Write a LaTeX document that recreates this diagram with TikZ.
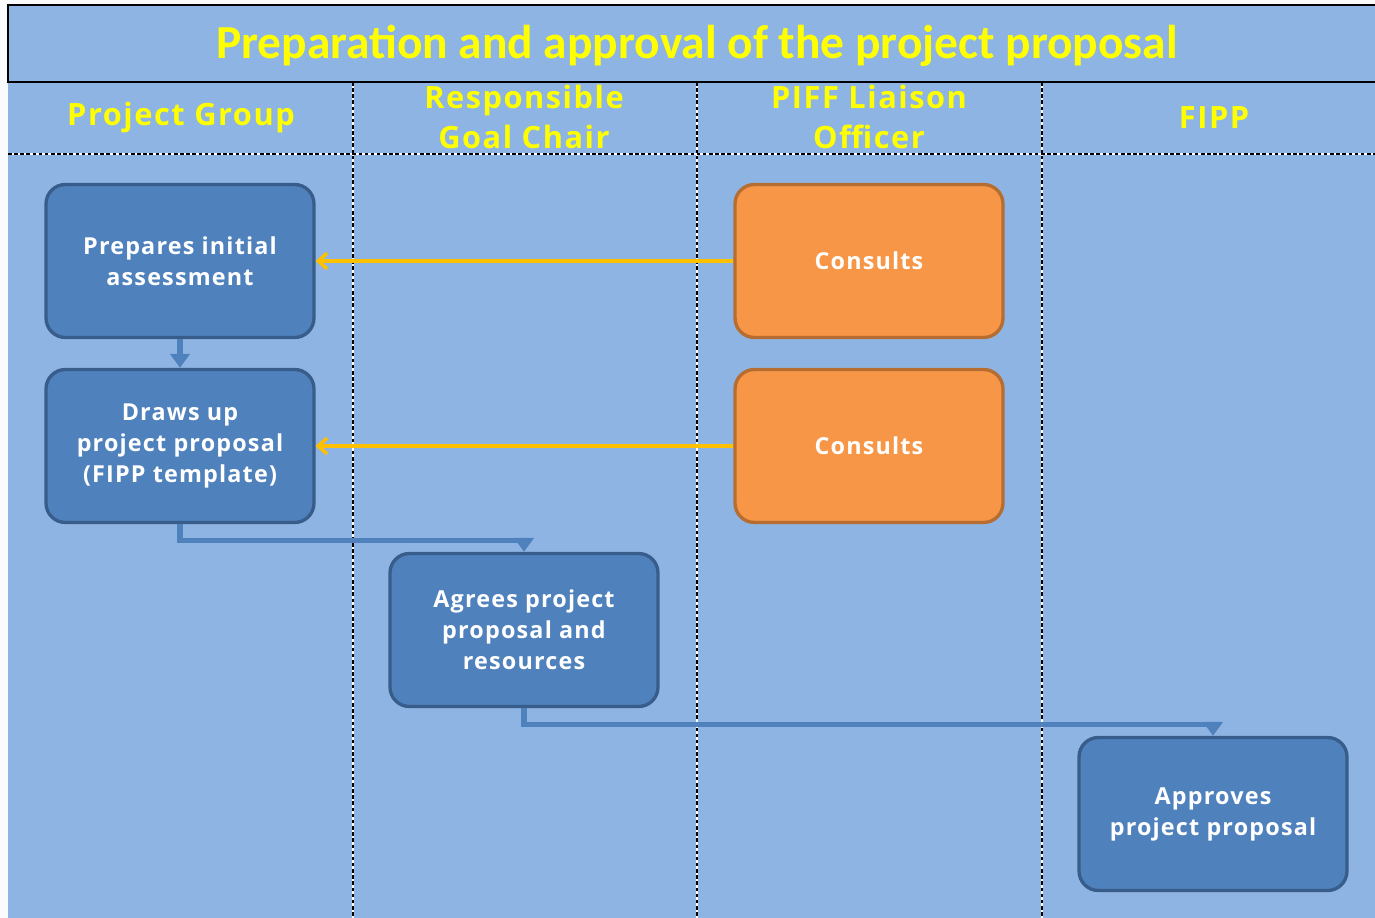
\documentclass[tikz,border=0pt]{standalone}
\usepackage{fontspec}
\setmainfont{Open Sans}[LetterSpace=5]
\newfontfamily\titlefont{Carlito}
\usetikzlibrary{arrows.meta}

\definecolor{lanebg}{HTML}{8EB4E3}
\definecolor{taskfill}{HTML}{4F81BD}
\definecolor{taskline}{HTML}{385D8A}
\definecolor{consfill}{HTML}{F79646}
\definecolor{consline}{HTML}{B66D31}
\definecolor{consarrow}{HTML}{FFC000}
\definecolor{headtext}{HTML}{FFFF00}

\begin{document}
\begin{tikzpicture}[x=0.02cm, y=-0.02cm,
  box/.style={line width=1.9pt, rounded corners=11pt, minimum width=5.36cm, minimum height=3.06cm,
    align=center, text=white, font=\bfseries\fontsize{13.3}{17.6}\selectfont},
  task/.style={box, draw=taskline, fill=taskfill},
  consult/.style={box, draw=consline, fill=consfill},
  lanehead/.style={text=headtext, align=center, font=\bfseries\fontsize{17.5}{23.3}\selectfont},
  flow/.style={draw=taskfill, line width=3pt, -{Triangle[width=11pt, length=8pt]}},
  ask/.style={draw=consarrow, line width=2pt, -{Straight Barb[width=9pt, length=5pt]}},
  lanesep/.style={line width=0.6pt, dash pattern=on 2pt off 1.5pt}]
  \useasboundingbox (0,0) rectangle (1375,918);
  \fill[white!95!lanebg] (0,0) rectangle (1375,918);
  \fill[lanebg] (8,5) rectangle (1375,918);

  % title and lane headers
  \draw[line width=1.1pt] (1375,5) -- (8,5) -- (8,82) -- (1375,82);
  \node[text=headtext, font=\titlefont\bfseries\fontsize{27}{30}\selectfont] (title) at (697,46)
    {Preparation and approval of the project proposal};
  \node[lanehead] (pg) at (181,118) {Project Group};
  \node[lanehead] (rgc) at (524,117) {Responsible\\Goal Chair};
  \node[lanehead] (pif) at (869,117) {PIFF Liaison\\Officer};
  \node[lanehead] (fipp) at (1214,118) {FIPP};

  \foreach \x in {353, 697, 1042}{
    \draw[white, line width=0.6pt] (\x,82) -- (\x,918);
    \draw[lanesep] (\x,82) -- (\x,918);
  }
  \draw[white, line width=0.6pt] (8,154) -- (1375,154);
  \draw[lanesep] (8,154) -- (1375,154);

  % steps
  \node[task] (prep) at (180,261) {Prepares initial\\assessment};
  \node[task] (draw) at (180,446) {Draws up\\project proposal\\(FIPP template)};
  \node[task] (agree) at (524,630) {Agrees project\\proposal and\\resources};
  \node[task] (appr) at (1213,814) {Approves\\project proposal};
  \node[consult] (cons1) at (869,261) {Consults};
  \node[consult] (cons2) at (869,446) {Consults};

  \draw[flow] (prep) -- (draw);
  \draw[flow] (draw.south) -- ++(0,16) -| (agree.north);
  \draw[flow] (agree.south) -- ++(0,16) -| (appr.north);
  \draw[ask] (cons1) -- (prep);
  \draw[ask] (cons2) -- (draw);
\end{tikzpicture}
\end{document}
